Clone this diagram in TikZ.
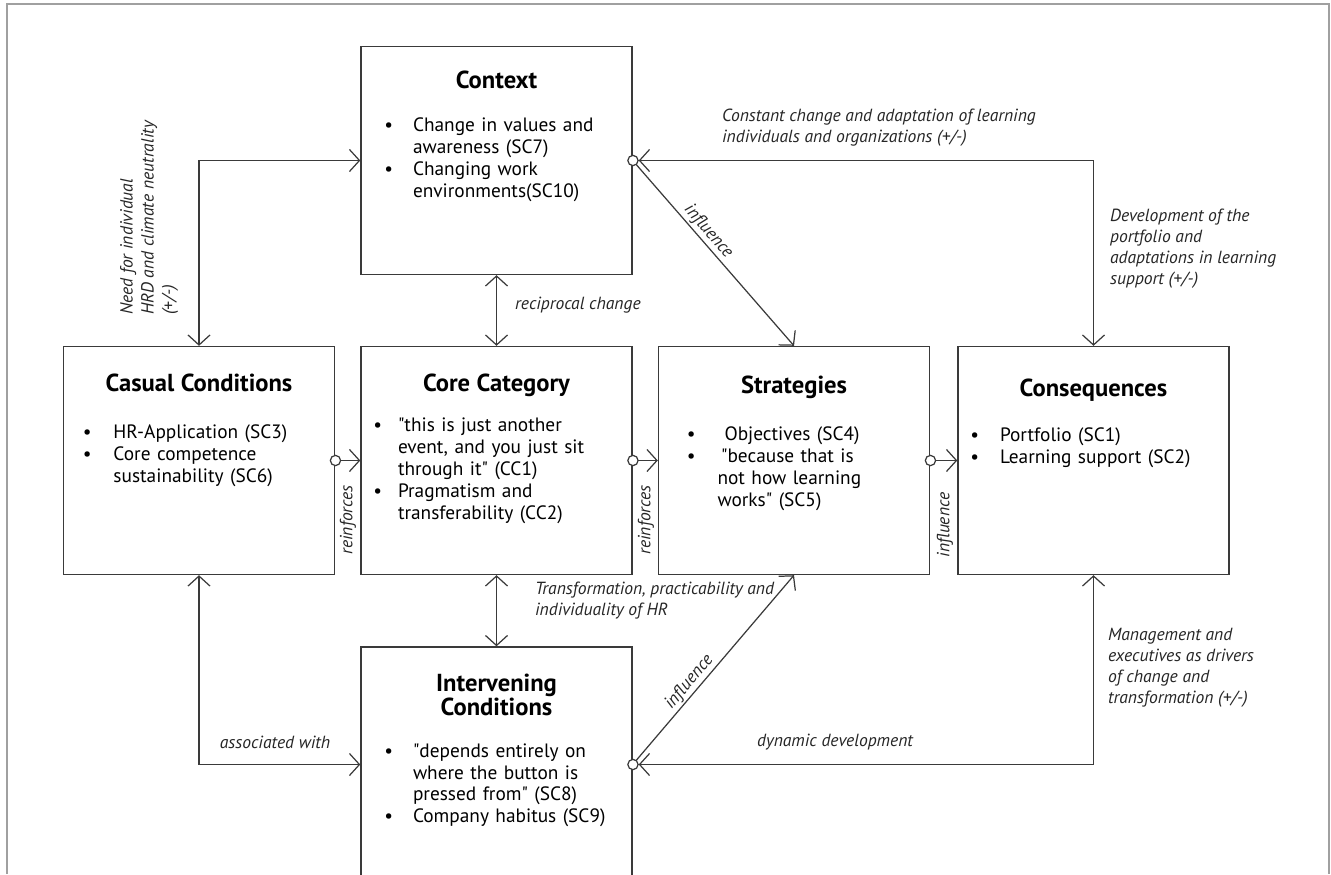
\documentclass[tikz,border=0pt]{standalone}
\usepackage{fontspec}
\setmainfont{PT Sans}[Ligatures=TeXOff]
\usetikzlibrary{arrows.meta,positioning}

\definecolor{linegray}{HTML}{3A3A3A}
\definecolor{framegray}{HTML}{A0A0A0}

% bullet list used inside the boxes: #1 text indent, #2 gap after bullet
\newenvironment{blist}[2]{\begin{list}{\textbullet}{%
  \setlength{\leftmargin}{#1}\setlength{\labelsep}{#2}%
  \setlength{\labelwidth}{1em}\setlength{\itemsep}{0pt}%
  \setlength{\parsep}{0pt}\setlength{\topsep}{0pt}\setlength{\partopsep}{0pt}}}%
  {\end{list}}
% box heading, #2 extra space before the list
\newcommand{\boxhead}[2]{{\centering\fontsize{14}{14}\selectfont\bfseries #1\par}\vspace{#2}}

\tikzset{
  box/.style={draw=linegray, line width=0.8pt, minimum width=5.42cm,
    minimum height=4.56cm, inner sep=0pt},
  boxtext/.style={anchor=north, text width=5.42cm, inner sep=0pt, align=left,
    font=\fontsize{11}{12.5}\selectfont},
  link/.style={draw=linegray, line width=0.7pt},
  lbl/.style={font=\fontsize{10}{11.9}\selectfont\itshape, text=black!85,
    inner sep=1pt, align=left},
  barb/.tip={Straight Barb[length=2mm,width=4.4mm]},
  ringtip/.tip={Circle[fill=white,length=2.3mm,width=2.3mm]}
}

\begin{document}
\begin{tikzpicture}
  \useasboundingbox (0,0) rectangle (26.62,17.48);
  % page frame
  \draw[framegray, line width=1pt] (0.14,0) -- (0.14,17.40) -- (26.58,17.40) -- (26.58,0);

  % boxes
  \node[box] (ctx) at (9.93,14.27) {};
  \node[box] (cas) at (3.98,8.27) {};
  \node[box] (core) at (9.93,8.27) {};
  \node[box] (str) at (15.88,8.27) {};
  \node[box] (con) at (21.87,8.27) {};
  \node[box, minimum height=4.7cm] (int) at (9.93,2.19) {};

  % box contents
  \node[boxtext, below=0.5cm of ctx.north] (ctxtxt) {\boxhead{Context}{12pt}%
    \begin{blist}{1.04cm}{0.4cm}
      \item Change in values and\\ awareness (SC7)
      \item Changing work\\ environments(SC10)
    \end{blist}};
  \node[boxtext, below=0.56cm of cas.north] (castxt) {\boxhead{Casual Conditions}{14pt}%
    \begin{blist}{1.0cm}{0.44cm}
      \item HR-Application (SC3)
      \item Core competence\\ sustainability (SC6)
    \end{blist}};
  \node[boxtext, below=0.56cm of core.north] (coretxt) {\boxhead{Core Category}{10pt}%
    \begin{blist}{0.74cm}{0.32cm}
      \item "this is just another\\ event, and you just sit\\ through it" (CC1)
      \item Pragmatism and\\ transferability (CC2)
    \end{blist}};
  \node[boxtext, below=0.6cm of str.north] (strtxt) {\boxhead{Strategies}{14pt}%
    \begin{blist}{1.18cm}{0.44cm}
      \item \hspace{4pt}Objectives (SC4)
      \item \hspace{2pt}"because that is\\ not how learning\\ works" (SC5)
    \end{blist}};
  \node[boxtext, below=0.66cm of con.north] (contxt) {\boxhead{Consequences}{13pt}%
    \begin{blist}{0.84cm}{0.42cm}
      \item Portfolio (SC1)
      \item Learning support (SC2)
    \end{blist}};
  \node[boxtext, below=0.54cm of int.north] (inttxt) {\boxhead{Intervening\\ Conditions}{11pt}%
    \begin{blist}{1.04cm}{0.4cm}
      \item "depends entirely on\\ where the button is\\ pressed from" (SC8)
      \item Company habitus (SC9)
    \end{blist}};

  % diagonal influences (drawn first, rings go on top)
  \draw[link, -{barb[]}] (ctx.east) -- node[lbl, sloped, above, pos=0.42] (infa) {influence} (str.north);
  \draw[link, -{barb[]}] (int.east) -- node[lbl, sloped, above, pos=0.4] (infb) {influence} (str.south);

  % upper loop
  \draw[link, {barb[]}-{barb[]}] (cas.north) |- (ctx.west);
  \draw[link, {barb[]}-{barb[]ringtip[]}, shorten >=-1.1mm] (con.north) |- (ctx.east);
  \draw[link, {barb[]}-{barb[]}] (ctx.south) -- (core.north);

  % middle row
  \draw[link, {ringtip[]}-{barb[]}, shorten <=-1.1mm] (cas.east) -- (core.west);
  \draw[link, {ringtip[]}-{barb[]}, shorten <=-1.1mm] (core.east) -- (str.west);
  \draw[link, {ringtip[]}-{barb[]}, shorten <=-1.1mm] (str.east) -- (con.west);

  % lower loop
  \draw[link, {barb[]}-{barb[]}] (core.south) -- (int.north);
  \draw[link, {barb[]}-{barb[]}] (cas.south) |- (int.west);
  \draw[link, {barb[]}-{barb[]ringtip[]}, shorten >=-1.1mm] (con.south) |- (int.east);

  % labels
  \node[lbl, rotate=90, anchor=north west] (need) at (2.36,11.14)
    {Need for individual\\ HRD and climate neutrality\\ (+/-)};
  \node[lbl, anchor=west] (recip) at (10.26,11.38) {reciprocal change};
  \node[lbl, anchor=west] (const) at (14.40,14.92)
    {Constant change and adaptation of learning\\ individuals and organizations (+/-)};
  \node[lbl, anchor=west] (devel) at (22.16,12.50)
    {Development of the\\ portfolio and\\ adaptations in learning\\ support (+/-)};
  \node[lbl, rotate=90] (reinfa) at (6.96,7.08) {reinforces};
  \node[lbl, rotate=90] (reinfb) at (12.92,7.08) {reinforces};
  \node[lbl, rotate=90] (infc) at (18.90,6.98) {influence};
  \node[lbl, anchor=west] (transf) at (10.66,5.46)
    {Transformation, practicability and\\ individuality of HR};
  \node[lbl] (assoc) at (5.50,2.64) {associated with};
  \node[lbl] (dyn) at (16.70,2.64) {dynamic development};
  \node[lbl, anchor=west] (mgmt) at (22.12,4.12)
    {Management and\\ executives as drivers\\ of change and\\ transformation (+/-)};
\end{tikzpicture}
\end{document}
